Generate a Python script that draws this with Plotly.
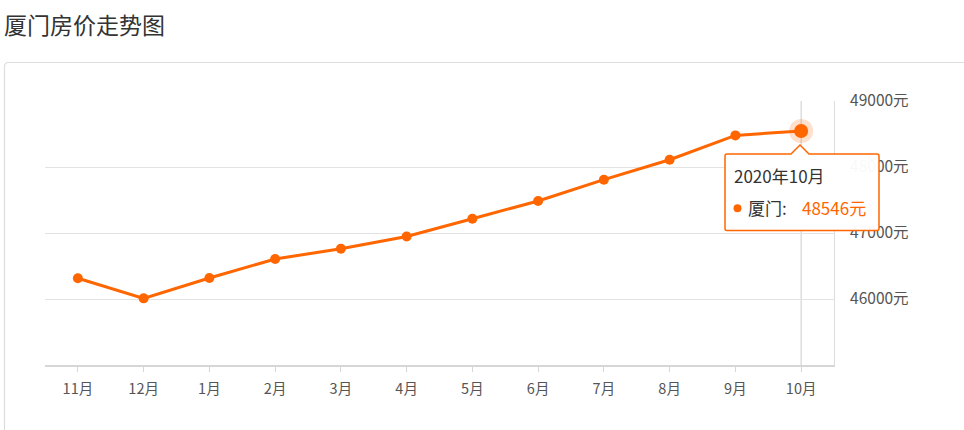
import plotly.graph_objects as go

title_text = "厦门房价走势图"
series_name = "厦门"
categories = ["11月", "12月", "1月", "2月", "3月", "4月", "5月", "6月", "7月", "8月", "9月", "10月"]
prices = [46314, 46010, 46318, 46606, 46762, 46948, 47217, 47485, 47808, 48110, 48479, 48546]
y_ticks = [46000, 47000, 48000, 49000]
tooltip_label = "2020年10月"

W, H = 964, 430
L, R, T, B = 45, 834, 101, 365
ORANGE = "#ff6600"
FONT = "Noto Sans CJK SC, Microsoft YaHei, sans-serif"

def px(x):
    return (x - L) / (R - L)

def py(y):
    return (B - y) / (B - T)

fig = go.Figure()
fig.add_trace(go.Scatter(
    x=categories, y=prices, mode="lines+markers",
    line=dict(color=ORANGE, width=3),
    marker=dict(color=ORANGE, size=10),
    hoverinfo="skip", showlegend=False,
))
# highlighted last point
fig.add_trace(go.Scatter(
    x=[categories[-1]], y=[prices[-1]], mode="markers",
    marker=dict(color="rgba(255,102,0,0.2)", size=24),
    hoverinfo="skip", showlegend=False,
))
fig.add_trace(go.Scatter(
    x=[categories[-1]], y=[prices[-1]], mode="markers",
    marker=dict(color=ORANGE, size=14),
    hoverinfo="skip", showlegend=False,
))

shapes = []
# card border with rounded top-left corner
r = 4
cx0, cy0 = px(4.5), py(62.5)
cx1, cy1 = px(1000), py(460)
rx, ry = r / (R - L), r / (B - T)
shapes.append(dict(
    type="path", xref="paper", yref="paper",
    path=(f"M {cx0},{cy1} L {cx0},{cy0 - ry} Q {cx0},{cy0} {cx0 + rx},{cy0} "
          f"L {cx1},{cy0}"),
    line=dict(color="#dddddd", width=1.2), layer="below",
))
# crosshair vertical line
shapes.append(dict(
    type="line", xref="x", yref="paper", x0=len(categories) - 1, x1=len(categories) - 1,
    y0=0, y1=1, line=dict(color="#cccccc", width=1), layer="below",
))
# tooltip box with notch
bx0, bx1, by0, by1 = 725, 879, 154, 230.5
nx, ny = 800, 145
p = lambda x, y: f"{px(x)},{py(y)}"
path = (f"M {p(bx0 + 2, by0)} L {p(nx - 9, by0)} L {p(nx, ny)} L {p(nx + 9, by0)} "
        f"L {p(bx1 - 2, by0)} Q {p(bx1, by0)} {p(bx1, by0 + 2)} "
        f"L {p(bx1, by1 - 2)} Q {p(bx1, by1)} {p(bx1 - 2, by1)} "
        f"L {p(bx0 + 2, by1)} Q {p(bx0, by1)} {p(bx0, by1 - 2)} "
        f"L {p(bx0, by0 + 2)} Q {p(bx0, by0)} {p(bx0 + 2, by0)} Z")
shapes.append(dict(
    type="path", xref="paper", yref="paper", path=path,
    fillcolor="rgba(255,255,255,0.96)", line=dict(color=ORANGE, width=1.5), layer="above",
))
# tooltip dot
shapes.append(dict(
    type="circle", xref="paper", yref="paper",
    x0=px(733.5), x1=px(741.5), y0=py(212.3), y1=py(204.3),
    fillcolor=ORANGE, line=dict(width=0), layer="above",
))

annotations = [
    dict(text=title_text, xref="paper", yref="paper", x=px(2), y=py(24),
         xanchor="left", yanchor="middle", showarrow=False,
         font=dict(family=FONT, size=23, color="#333333")),
    dict(text=tooltip_label, xref="paper", yref="paper", x=px(732), y=py(175),
         xanchor="left", yanchor="middle", showarrow=False,
         font=dict(family=FONT, size=17, color="#333333")),
    dict(text=series_name + ":", xref="paper", yref="paper", x=px(745.5), y=py(207.5),
         xanchor="left", yanchor="middle", showarrow=False,
         font=dict(family=FONT, size=17, color="#333333")),
    dict(text=f"{prices[-1]}元", xref="paper", yref="paper", x=px(799.5), y=py(207.5),
         xanchor="left", yanchor="middle", showarrow=False,
         font=dict(family=FONT, size=17, color=ORANGE)),
]

fig.update_layout(
    width=W, height=H,
    margin=dict(l=L, r=W - R, t=T, b=H - B, pad=0),
    paper_bgcolor="white", plot_bgcolor="white",
    shapes=shapes, annotations=annotations,
    font=dict(family=FONT, size=14, color="#555555"),
    xaxis=dict(
        type="category", categoryorder="array", categoryarray=categories,
        range=[-0.5, len(categories) - 0.5],
        showgrid=False, zeroline=False,
        showline=True, linecolor="#d6d6d6", linewidth=2,
        ticks="outside", ticklen=5, tickcolor="#d6d6d6", tickwidth=1,
        tickfont=dict(family=FONT, size=14.5, color="#555555"),
        ticklabelstandoff=5,
        fixedrange=True,
    ),
    yaxis=dict(
        side="right", range=[45000, 49000],
        tickvals=y_ticks, ticktext=[f"{v}元" for v in y_ticks],
        showgrid=True, gridcolor="#e3e3e3", gridwidth=1,
        zeroline=False, showline=True, linecolor="#dddddd", linewidth=1,
        ticks="", tickfont=dict(family=FONT, size=15.5, color="#555555"),
        ticklabelstandoff=12,
        fixedrange=True,
    ),
    hovermode=False,
)

fig.write_html("out.html", config={"displayModeBar": False},
               post_script="document.body.style.margin='0';")
